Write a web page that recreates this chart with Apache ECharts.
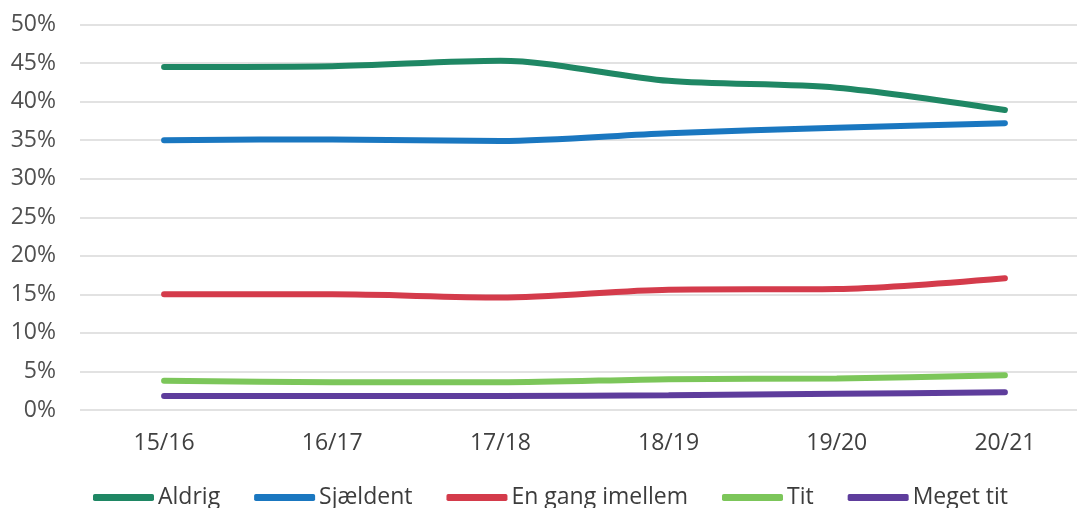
<!DOCTYPE html>
<html>
<head>
<meta charset="utf-8">
<script src="https://cdn.jsdelivr.net/npm/echarts@6/dist/echarts.min.js"></script>
<style>html,body{margin:0;padding:0;background:#fff;overflow:hidden}#c{width:1089px;height:508px}</style>
</head>
<body>
<div id="c"></div>
<script>
const categories = ['15/16','16/17','17/18','18/19','19/20','20/21'];
const aldrig = [44.5, 44.6, 45.3, 42.7, 41.8, 38.9];
const sjaeldent = [35.0, 35.1, 34.9, 35.9, 36.6, 37.2];
const enGang = [15.0, 15.0, 14.6, 15.6, 15.7, 17.1];
const tit = [3.8, 3.6, 3.6, 4.0, 4.1, 4.5];
const megetTit = [1.8, 1.8, 1.8, 1.9, 2.1, 2.3];
const seriesNames = ['Aldrig','Sjældent','En gang imellem','Tit','Meget tit'];
const colors = ['#1f8764','#1a77c0','#d43b4b','#7cc65a','#5e3d9c'];
const allData = [aldrig, sjaeldent, enGang, tit, megetTit];

const chart = echarts.init(document.getElementById('c'));
const font = '"Open Sans", "Noto Sans", sans-serif';
chart.setOption({
  animation: false,
  color: colors,
  grid: {left: 80, right: 0, top: 24.5, bottom: 98},
  legend: {
    top: 481, left: 88,
    icon: 'roundRect', itemWidth: 61, itemHeight: 7, itemGap: 34,
    textStyle: {fontFamily: font, fontSize: 23, color: '#3c3c3c', padding: [0,0,0,-1]},
    data: seriesNames
  },
  xAxis: {
    type: 'category', data: categories, boundaryGap: true,
    axisLine: {show: false}, axisTick: {show: false},
    axisLabel: {fontFamily: font, fontSize: 23, color: '#404040', margin: 22}
  },
  yAxis: {
    type: 'value', min: 0, max: 50, interval: 5,
    axisLabel: {formatter: '{value}%', fontFamily: font, fontSize: 23, color: '#505050', margin: 24},
    splitLine: {lineStyle: {color: '#d9d9d9', width: 1.5}},
    axisLine: {show: false}, axisTick: {show: false}
  },
  series: allData.map((d, i) => ({
    name: seriesNames[i], type: 'line', data: d, smooth: 0.3,
    symbol: 'none', lineStyle: {width: 6, cap: 'round', color: colors[i]},
    itemStyle: {color: colors[i]}
  }))
});
</script>
</body>
</html>
